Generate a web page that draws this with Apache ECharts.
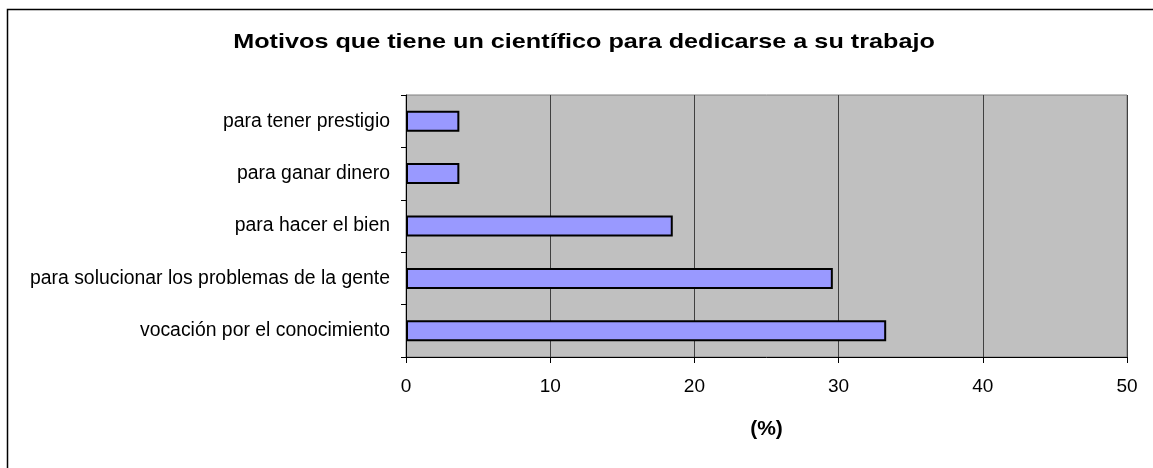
<!DOCTYPE html>
<html>
<head>
<meta charset="utf-8">
<script src="https://cdn.jsdelivr.net/npm/echarts@6/dist/echarts.min.js"></script>
<style>
html,body{margin:0;padding:0;background:#fff;}
#c{width:1153px;height:468px;}
</style>
</head>
<body>
<div id="c"></div>
<script>
const titleText = 'Motivos que tiene un científico para dedicarse a su trabajo';
const categories = ['para tener prestigio', 'para ganar dinero', 'para hacer el bien', 'para solucionar los problemas de la gente', 'vocación por el conocimiento'];
const values = [3.7, 3.7, 18.5, 29.6, 33.3];
const axisName = '(%)';
const xMin = 0, xMax = 50, xStep = 10;

const chart = echarts.init(document.getElementById('c'), null, {renderer: 'canvas'});
const font = 'Liberation Sans';
chart.setOption({
  animation: false,
  backgroundColor: '#ffffff',
  graphic: [{
    type: 'rect', left: 5, top: 7, z: -10,
    shape: {width: 1160, height: 470},
    style: {fill: 'none', stroke: '#000', lineWidth: 1.5}
  }, {
    type: 'text', x: 584, y: 42, scaleX: 1.2, z: 10,
    style: {
      text: titleText, fontFamily: font, fontWeight: 'bold', fontSize: 21,
      fill: '#000', textAlign: 'center', textVerticalAlign: 'middle'
    }
  }],
  grid: {
    left: 406, top: 95, right: 26, bottom: 111,
    show: true, backgroundColor: '#c0c0c0', borderColor: '#808080', borderWidth: 1
  },
  xAxis: {
    type: 'value', min: xMin, max: xMax, interval: xStep,
    name: axisName, nameLocation: 'middle', nameGap: 62,
    nameTextStyle: {fontFamily: font, fontWeight: 'bold', fontSize: 21, color: '#000'},
    axisLine: {show: true, lineStyle: {color: '#000', width: 1}},
    axisTick: {show: true, length: 6, lineStyle: {color: '#000'}},
    axisLabel: {fontFamily: font, fontSize: 19, color: '#000', margin: 20},
    splitLine: {show: true, lineStyle: {color: '#404040', width: 1}}
  },
  yAxis: {
    type: 'category', data: categories, inverse: true,
    axisLine: {show: true, lineStyle: {color: '#000', width: 1}},
    axisTick: {show: true, length: 5, lineStyle: {color: '#000'}},
    axisLabel: {fontFamily: font, fontSize: 19.4, color: '#000', margin: 16},
    splitLine: {show: false}
  },
  series: [{
    type: 'bar', data: values, barCategoryGap: '60%',
    itemStyle: {color: '#9999ff', borderColor: '#000', borderWidth: 2}
  }]
});
</script>
</body>
</html>
